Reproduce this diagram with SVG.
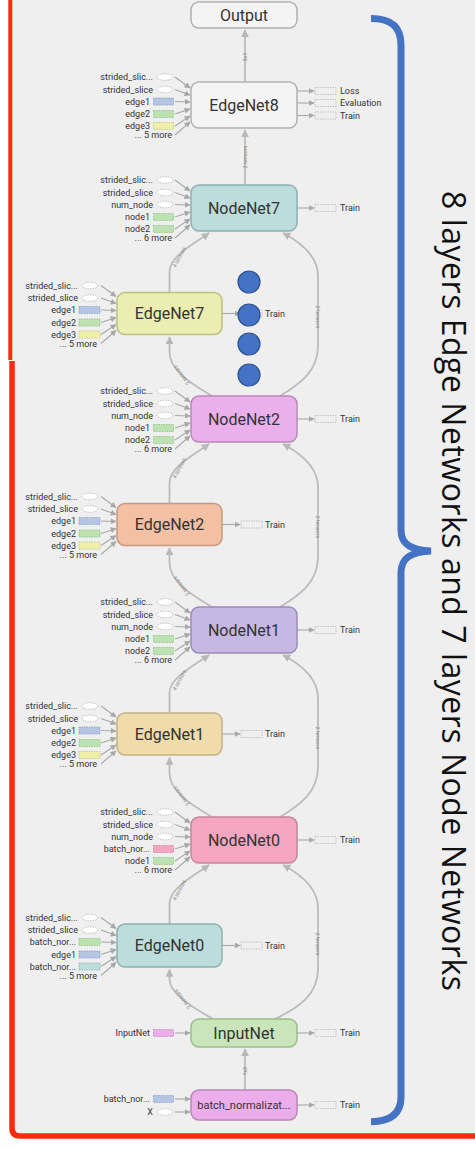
<svg xmlns="http://www.w3.org/2000/svg" width="475" height="1150" viewBox="0 0 475 1150">
<style>
.l{font-family:Roboto,"Liberation Sans",sans-serif;font-size:9px;fill:#333}
.le{font-family:Roboto,"Liberation Sans",sans-serif;font-size:9px;fill:#333;text-anchor:end}
.nl{font-family:Roboto,"Liberation Sans",sans-serif;font-size:16px;fill:#333;text-anchor:middle}
.el{font-family:Roboto,"Liberation Sans",sans-serif;font-size:5.5px;fill:#8a8a8a;text-anchor:middle}
.in{stroke:#a8a8a8;stroke-width:1.1;fill:none;marker-end:url(#a)}
.cn{stroke:#bcbcbc;stroke-width:1.8;fill:none;marker-end:url(#b)}
.ov{fill:#fff;stroke:#b8b8b8;stroke-width:0.8;stroke-dasharray:1.5 1}
.os{fill:none;stroke:#b8b8b8;stroke-width:0.8;stroke-dasharray:1.5 1}
.bl{fill:#b5c5e2;stroke:#8a9fcb;stroke-width:0.8;stroke-dasharray:1.5 1}
.gr{fill:#bde2b2;stroke:#8fbf84;stroke-width:0.8;stroke-dasharray:1.5 1}
.ye{fill:#efefaa;stroke:#c7c77e;stroke-width:0.8;stroke-dasharray:1.5 1}
.pk{fill:#f4a6c0;stroke:#cf7c98;stroke-width:0.8;stroke-dasharray:1.5 1}
.tl{fill:#bddcdc;stroke:#8fb0b0;stroke-width:0.8;stroke-dasharray:1.5 1}
.vi{fill:#ecaeea;stroke:#c284c0;stroke-width:0.8;stroke-dasharray:1.5 1}
.nd{stroke-width:1.5}
.dot{fill:#4472c4;stroke:#2f528f;stroke-width:1.2}
</style>
<defs>
<marker id="a" viewBox="0 0 10 10" refX="9" refY="5" markerWidth="6" markerHeight="6" orient="auto" markerUnits="userSpaceOnUse"><path d="M0,0 L10,5 L0,10 z" fill="#a8a8a8"/></marker>
<marker id="b" viewBox="0 0 10 10" refX="9" refY="5" markerWidth="8" markerHeight="8" orient="auto" markerUnits="userSpaceOnUse"><path d="M0,0 L10,5 L0,10 z" fill="#b8b8b8"/></marker>
</defs>
<rect x="0" y="0" width="475" height="1150" fill="#fff"/>
<rect x="11" y="0" width="464" height="1136" fill="#efefef"/>
<g id="frame">
<line x1="10.3" y1="0" x2="10.3" y2="360" stroke="#fa2a0c" stroke-width="4"/>
<path d="M12,361 L12,1128 Q12,1136 20,1136 L475,1136" fill="none" stroke="#fa2a0c" stroke-width="5.5"/>
</g>
<g id="brace">
<path d="M371,18.5 C390,18.5 401,26 401,45 L401,530 C401,545 412,550 431,551 C412,552 401,557 401,573 L401,1097 C401,1114 390,1121.5 371,1121.7" fill="none" stroke="#4472c4" stroke-width="7"/>
<text transform="translate(442,191) rotate(90)" x="0" y="0" font-family="'Open Sans','Noto Sans',sans-serif" font-size="32" fill="#111" textLength="800" lengthAdjust="spacing">8 layers Edge Networks and 7 layers Node Networks</text>
</g>

<g id="connectors">
<!-- main vertical -->
<path class="cn" d="M245,82 L245,30"/>
<path class="cn" d="M245,185 L245,130"/>
<path class="cn" d="M245,1090 L245,1049"/>
<text class="el" transform="translate(247,57) rotate(-90)">3x1</text>
<text class="el" transform="translate(247,157) rotate(-90)">2 tensors</text>
<text class="el" transform="translate(247,1071) rotate(-90)">?x3</text>
<!-- pair 1 -->
<path class="cn" d="M169.5,292.5 L169.5,272 C169.5,256 195,243 209,233"/>
<path class="cn" d="M212,396 C190,383 169.5,370 169.5,352 L169.5,337"/>
<path class="cn" d="M280,396 C300,384 318,371 318,346 L318,276 C318,256 300,242 283,233"/>
<text class="el" transform="translate(181,258) rotate(-62)">4 tensors</text>
<text class="el" transform="translate(183,374) rotate(-127)">2 tensors</text>
<text class="el" transform="translate(316,317) rotate(90)">2 tensors</text>
<!-- pair 2 -->
<path class="cn" d="M169.5,503.5 L169.5,483 C169.5,467 195,454 209,444"/>
<path class="cn" d="M212,607 C190,594 169.5,581 169.5,563 L169.5,548"/>
<path class="cn" d="M280,607 C300,595 318,582 318,557 L318,487 C318,467 300,453 283,444"/>
<text class="el" transform="translate(181,469) rotate(-62)">4 tensors</text>
<text class="el" transform="translate(183,585) rotate(-127)">2 tensors</text>
<text class="el" transform="translate(316,527) rotate(90)">2 tensors</text>
<!-- pair 3 -->
<path class="cn" d="M169.5,713 L169.5,692.5 C169.5,678 195,665 209,655"/>
<path class="cn" d="M212,817 C190,804 169.5,791 169.5,773 L169.5,757.5"/>
<path class="cn" d="M280,817 C300,805 318,792 318,767 L318,698 C318,678 300,664 283,655"/>
<text class="el" transform="translate(181,681) rotate(-62)">4 tensors</text>
<text class="el" transform="translate(183,795) rotate(-127)">2 tensors</text>
<text class="el" transform="translate(316,738) rotate(90)">2 tensors</text>
<!-- pair 4 -->
<path class="cn" d="M169.5,924 L169.5,903.5 C169.5,888 195,875 209,865"/>
<path class="cn" d="M213,1019 C190,1006 169.5,993 169.5,979 L169.5,969.5"/>
<path class="cn" d="M275,1019 C300,1007 318,994 318,969 L318,908 C318,888 300,874 283,865"/>
<text class="el" transform="translate(181,891) rotate(-62)">4 tensors</text>
<text class="el" transform="translate(184,998) rotate(-127)">2 tensors</text>
<text class="el" transform="translate(316,944) rotate(90)">2 tensors</text>

<!-- input arrows EdgeNet8 -->
<path class="in" d="M175,77 L190,88"/><path class="in" d="M175,89.5 L190,95"/><path class="in" d="M175,101.5 L190,102"/><path class="in" d="M175,114 L190,109"/><path class="in" d="M175,126 L190,116"/><path class="in" d="M175,135 L190,122"/>
<path class="in" d="M297,91 L314,91"/><path class="in" d="M297,103 L314,103"/><path class="in" d="M297,115.5 L314,115.5"/>
<!-- NodeNet7 -->
<path class="in" d="M175,180 L190,191"/><path class="in" d="M175,192.5 L190,198"/><path class="in" d="M175,204.5 L190,205"/><path class="in" d="M175,217 L190,212"/><path class="in" d="M175,229 L190,219"/><path class="in" d="M175,238 L190,225"/>
<path class="in" d="M297,208 L314,208"/>
<!-- EdgeNet7 -->
<path class="in" d="M101,285.5 L116,296.5"/><path class="in" d="M101,298 L116,303.5"/><path class="in" d="M101,310 L116,310.5"/><path class="in" d="M101,322.5 L116,317.5"/><path class="in" d="M101,334.5 L116,324.5"/><path class="in" d="M101,343.5 L116,330.5"/>
<path class="in" d="M222,313.5 L240,313.5"/>
<!-- NodeNet2 -->
<path class="in" d="M175,391 L190,402"/><path class="in" d="M175,403.5 L190,409"/><path class="in" d="M175,415.5 L190,416"/><path class="in" d="M175,428 L190,423"/><path class="in" d="M175,440 L190,430"/><path class="in" d="M175,449 L190,436"/>
<path class="in" d="M297,419 L314,419"/>
<!-- EdgeNet2 -->
<path class="in" d="M101,496.5 L116,507.5"/><path class="in" d="M101,509 L116,514.5"/><path class="in" d="M101,521 L116,521.5"/><path class="in" d="M101,533.5 L116,528.5"/><path class="in" d="M101,545.5 L116,535.5"/><path class="in" d="M101,554.5 L116,541.5"/>
<path class="in" d="M222,524.5 L240,524.5"/>
<!-- NodeNet1 -->
<path class="in" d="M175,602 L190,613"/><path class="in" d="M175,614.5 L190,620"/><path class="in" d="M175,626.5 L190,627"/><path class="in" d="M175,639 L190,634"/><path class="in" d="M175,651 L190,641"/><path class="in" d="M175,660 L190,647"/>
<path class="in" d="M297,630 L314,630"/>
<!-- EdgeNet1 -->
<path class="in" d="M101,706 L116,717"/><path class="in" d="M101,718.5 L116,724"/><path class="in" d="M101,730.5 L116,731"/><path class="in" d="M101,743 L116,738"/><path class="in" d="M101,755 L116,745"/><path class="in" d="M101,764 L116,751"/>
<path class="in" d="M222,734 L240,734"/>
<!-- NodeNet0 -->
<path class="in" d="M175,812 L190,823"/><path class="in" d="M175,824.5 L190,830"/><path class="in" d="M175,836.5 L190,837"/><path class="in" d="M175,849 L190,844"/><path class="in" d="M175,861 L190,851"/><path class="in" d="M175,870 L190,857"/>
<path class="in" d="M297,840 L314,840"/>
<!-- EdgeNet0 -->
<path class="in" d="M101,917.5 L116,928.5"/><path class="in" d="M101,930 L116,935.5"/><path class="in" d="M101,942 L116,942.5"/><path class="in" d="M101,954.5 L116,949.5"/><path class="in" d="M101,966.5 L116,956.5"/><path class="in" d="M101,975.5 L116,962.5"/>
<path class="in" d="M222,945.5 L240,945.5"/>
<!-- InputNet -->
<path class="in" d="M175,1033 L190,1033"/>
<path class="in" d="M297,1033 L314,1033"/>
<!-- batch -->
<path class="in" d="M175,1099 L190,1099"/><path class="in" d="M175,1112 L190,1112"/>
<path class="in" d="M297,1105 L314,1105"/>
</g>

<g id="output">
<rect class="nd" x="191" y="2" width="106" height="26" rx="8" fill="#f4f4f4" stroke="#b0b0b0"/>
<text class="nl" x="244" y="20.5">Output</text>
</g>

<g id="edgenet8">
<rect class="nd" x="191" y="82" width="106" height="46" rx="8" fill="#f4f4f4" stroke="#b0b0b0"/>
<text class="nl" x="244" y="110.5">EdgeNet8</text>
<text class="le" x="153" y="80">strided_slic...</text><ellipse class="ov" cx="165" cy="77" rx="8" ry="3.3"/>
<text class="le" x="153" y="92.5">strided_slice</text><ellipse class="ov" cx="165" cy="89.5" rx="8" ry="3.3"/>
<text class="le" x="150" y="104.5">edge1</text><rect class="bl" x="153.5" y="98" width="20" height="7"/>
<text class="le" x="150" y="117">edge2</text><rect class="gr" x="153.5" y="110.5" width="20" height="7"/>
<text class="le" x="150" y="129">edge3</text><rect class="ye" x="153.5" y="122.5" width="20" height="7"/>
<text class="le" x="172" y="138">... 5 more</text>
<rect class="os" x="315" y="87.5" width="21" height="7"/><text class="l" x="340" y="94">Loss</text>
<rect class="os" x="315" y="99.5" width="21" height="7"/><text class="l" x="340" y="106">Evaluation</text>
<rect class="os" x="315" y="112" width="21" height="7"/><text class="l" x="340" y="118.5">Train</text>
</g>

<g id="nodenet7">
<rect class="nd" x="191" y="185" width="106" height="46" rx="8" fill="#bddcdc" stroke="#8fb0b0"/>
<text class="nl" x="244" y="213.5">NodeNet7</text>
<text class="le" x="153" y="183">strided_slic...</text><ellipse class="ov" cx="165" cy="180" rx="8" ry="3.3"/>
<text class="le" x="153" y="195.5">strided_slice</text><ellipse class="ov" cx="165" cy="192.5" rx="8" ry="3.3"/>
<text class="le" x="153" y="207.5">num_node</text><ellipse class="ov" cx="165" cy="204.5" rx="8" ry="3.3"/>
<text class="le" x="150" y="220">node1</text><rect class="gr" x="153.5" y="213.5" width="20" height="7"/>
<text class="le" x="150" y="232">node2</text><rect class="gr" x="153.5" y="225.5" width="20" height="7"/>
<text class="le" x="172" y="241">... 6 more</text>
<rect class="os" x="315" y="204.5" width="21" height="7"/><text class="l" x="340" y="211">Train</text>
</g>

<g id="edgenet7">
<rect class="nd" x="117" y="292.5" width="105" height="42" rx="8" fill="#ecedb0" stroke="#c0c07e"/>
<text class="nl" x="169.5" y="319">EdgeNet7</text>
<text class="le" x="78" y="288.5">strided_slic...</text><ellipse class="ov" cx="90" cy="285.5" rx="8" ry="3.3"/>
<text class="le" x="78" y="301">strided_slice</text><ellipse class="ov" cx="90" cy="298" rx="8" ry="3.3"/>
<text class="le" x="76" y="313">edge1</text><rect class="bl" x="79" y="306.5" width="21" height="7"/>
<text class="le" x="76" y="325.5">edge2</text><rect class="gr" x="79" y="319" width="21" height="7"/>
<text class="le" x="76" y="337.5">edge3</text><rect class="ye" x="79" y="331" width="21" height="7"/>
<text class="le" x="97" y="346.5">... 5 more</text>
<rect class="os" x="241" y="310" width="21" height="7"/><text class="l" x="265" y="316.5">Train</text>
</g>

<g id="nodenet2">
<rect class="nd" x="191" y="396" width="106" height="46" rx="8" fill="#ebb0ec" stroke="#b888b8"/>
<text class="nl" x="244" y="424.5">NodeNet2</text>
<text class="le" x="153" y="394">strided_slic...</text><ellipse class="ov" cx="165" cy="391" rx="8" ry="3.3"/>
<text class="le" x="153" y="406.5">strided_slice</text><ellipse class="ov" cx="165" cy="403.5" rx="8" ry="3.3"/>
<text class="le" x="153" y="418.5">num_node</text><ellipse class="ov" cx="165" cy="415.5" rx="8" ry="3.3"/>
<text class="le" x="150" y="431">node1</text><rect class="gr" x="153.5" y="424.5" width="20" height="7"/>
<text class="le" x="150" y="443">node2</text><rect class="gr" x="153.5" y="436.5" width="20" height="7"/>
<text class="le" x="172" y="452">... 6 more</text>
<rect class="os" x="315" y="415.5" width="21" height="7"/><text class="l" x="340" y="422">Train</text>
</g>

<g id="edgenet2">
<rect class="nd" x="117" y="503.5" width="105" height="42" rx="8" fill="#f4c0a4" stroke="#c89880"/>
<text class="nl" x="169.5" y="530">EdgeNet2</text>
<text class="le" x="78" y="499.5">strided_slic...</text><ellipse class="ov" cx="90" cy="496.5" rx="8" ry="3.3"/>
<text class="le" x="78" y="512">strided_slice</text><ellipse class="ov" cx="90" cy="509" rx="8" ry="3.3"/>
<text class="le" x="76" y="524">edge1</text><rect class="bl" x="79" y="517.5" width="21" height="7"/>
<text class="le" x="76" y="536.5">edge2</text><rect class="gr" x="79" y="530" width="21" height="7"/>
<text class="le" x="76" y="548.5">edge3</text><rect class="ye" x="79" y="542" width="21" height="7"/>
<text class="le" x="97" y="557.5">... 5 more</text>
<rect class="os" x="241" y="521" width="21" height="7"/><text class="l" x="265" y="527.5">Train</text>
</g>

<g id="nodenet1">
<rect class="nd" x="191" y="607" width="106" height="46" rx="8" fill="#c6b8e2" stroke="#9a8cb8"/>
<text class="nl" x="244" y="635.5">NodeNet1</text>
<text class="le" x="153" y="605">strided_slic...</text><ellipse class="ov" cx="165" cy="602" rx="8" ry="3.3"/>
<text class="le" x="153" y="617.5">strided_slice</text><ellipse class="ov" cx="165" cy="614.5" rx="8" ry="3.3"/>
<text class="le" x="153" y="629.5">num_node</text><ellipse class="ov" cx="165" cy="626.5" rx="8" ry="3.3"/>
<text class="le" x="150" y="642">node1</text><rect class="gr" x="153.5" y="635.5" width="20" height="7"/>
<text class="le" x="150" y="654">node2</text><rect class="gr" x="153.5" y="647.5" width="20" height="7"/>
<text class="le" x="172" y="663">... 6 more</text>
<rect class="os" x="315" y="626.5" width="21" height="7"/><text class="l" x="340" y="633">Train</text>
</g>

<g id="edgenet1">
<rect class="nd" x="117" y="713" width="105" height="42" rx="8" fill="#f0dcab" stroke="#c4b088"/>
<text class="nl" x="169.5" y="739.5">EdgeNet1</text>
<text class="le" x="78" y="709">strided_slic...</text><ellipse class="ov" cx="90" cy="706" rx="8" ry="3.3"/>
<text class="le" x="78" y="721.5">strided_slice</text><ellipse class="ov" cx="90" cy="718.5" rx="8" ry="3.3"/>
<text class="le" x="76" y="733.5">edge1</text><rect class="bl" x="79" y="727" width="21" height="7"/>
<text class="le" x="76" y="746">edge2</text><rect class="gr" x="79" y="739.5" width="21" height="7"/>
<text class="le" x="76" y="758">edge3</text><rect class="ye" x="79" y="751.5" width="21" height="7"/>
<text class="le" x="97" y="767">... 5 more</text>
<rect class="os" x="241" y="730.5" width="21" height="7"/><text class="l" x="265" y="737">Train</text>
</g>

<g id="nodenet0">
<rect class="nd" x="191" y="817" width="106" height="46" rx="8" fill="#f4a6c0" stroke="#c8849a"/>
<text class="nl" x="244" y="845.5">NodeNet0</text>
<text class="le" x="153" y="815">strided_slic...</text><ellipse class="ov" cx="165" cy="812" rx="8" ry="3.3"/>
<text class="le" x="153" y="827.5">strided_slice</text><ellipse class="ov" cx="165" cy="824.5" rx="8" ry="3.3"/>
<text class="le" x="153" y="839.5">num_node</text><ellipse class="ov" cx="165" cy="836.5" rx="8" ry="3.3"/>
<text class="le" x="150" y="852">batch_nor...</text><rect class="pk" x="153.5" y="845.5" width="20" height="7"/>
<text class="le" x="150" y="864">node1</text><rect class="gr" x="153.5" y="857.5" width="20" height="7"/>
<text class="le" x="172" y="873">... 6 more</text>
<rect class="os" x="315" y="836.5" width="21" height="7"/><text class="l" x="340" y="843">Train</text>
</g>

<g id="edgenet0">
<rect class="nd" x="117" y="924" width="105" height="43" rx="8" fill="#bddcdc" stroke="#8fb0b0"/>
<text class="nl" x="169.5" y="951">EdgeNet0</text>
<text class="le" x="78" y="920.5">strided_slic...</text><ellipse class="ov" cx="90" cy="917.5" rx="8" ry="3.3"/>
<text class="le" x="78" y="933">strided_slice</text><ellipse class="ov" cx="90" cy="930" rx="8" ry="3.3"/>
<text class="le" x="76" y="945">batch_nor...</text><rect class="gr" x="79" y="938.5" width="21" height="7"/>
<text class="le" x="76" y="957.5">edge1</text><rect class="bl" x="79" y="951" width="21" height="7"/>
<text class="le" x="76" y="969.5">batch_nor...</text><rect class="tl" x="79" y="963" width="21" height="7"/>
<text class="le" x="97" y="978.5">... 5 more</text>
<rect class="os" x="241" y="942" width="21" height="7"/><text class="l" x="265" y="948.5">Train</text>
</g>

<g id="inputnet">
<rect class="nd" x="191" y="1019" width="106" height="28" rx="8" fill="#c9e5b9" stroke="#9cbc8c"/>
<text class="nl" x="244" y="1038.5">InputNet</text>
<text class="le" x="150" y="1036">InputNet</text><rect class="vi" x="153.5" y="1029.5" width="20" height="7"/>
<rect class="os" x="315" y="1029.5" width="21" height="7"/><text class="l" x="340" y="1036">Train</text>
</g>

<g id="batchnorm">
<rect class="nd" x="191" y="1090" width="106" height="30" rx="8" fill="#ecaeea" stroke="#b885b6"/>
<text class="nl" x="244" y="1109" style="font-size:11px">batch_normalizat...</text>
<text class="le" x="150" y="1102">batch_nor...</text><rect class="bl" x="153.5" y="1095.5" width="20" height="7"/>
<text class="le" x="153" y="1115">X</text><ellipse class="ov" cx="165" cy="1112" rx="8" ry="3.3"/>
<rect class="os" x="315" y="1101.5" width="21" height="7"/><text class="l" x="340" y="1108">Train</text>
</g>

<g id="dots">
<circle class="dot" cx="249" cy="282" r="11"/>
<circle class="dot" cx="249" cy="315" r="11"/>
<circle class="dot" cx="249" cy="344" r="11"/>
<circle class="dot" cx="249" cy="375" r="11"/>
</g>
</svg>
